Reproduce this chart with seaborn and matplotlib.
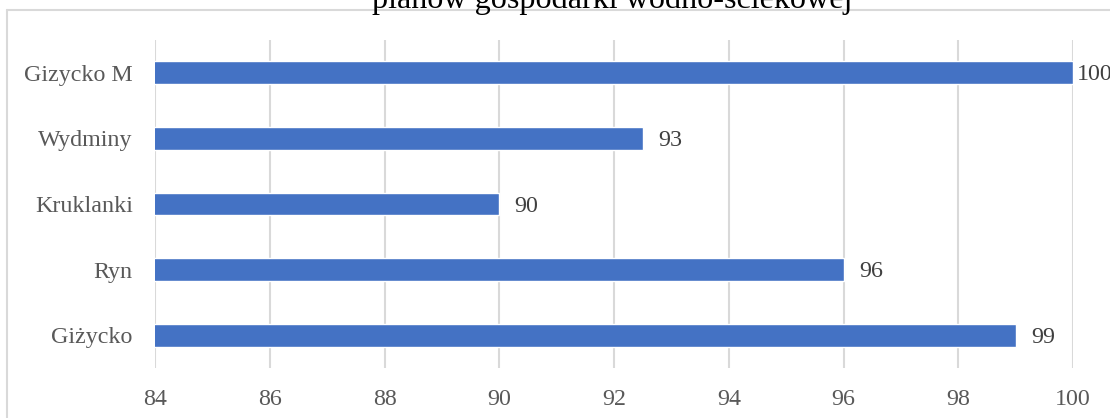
import matplotlib
matplotlib.use("Agg")
import matplotlib.pyplot as plt
import seaborn as sns
import pandas as pd
from matplotlib.lines import Line2D

categories = ["Gizycko M", "Wydminy", "Kruklanki", "Ryn", "Giżycko"]
values = [100, 92.5, 90, 96, 99]
data_labels = ["100", "93", "90", "96", "99"]
x_ticks = [84, 86, 88, 90, 92, 94, 96, 98, 100]
title = "planów gospodarki wodno-ściekowej"

sns.set_theme(style="white")
plt.rcParams['font.family'] = ['Liberation Serif', 'DejaVu Serif']

W, H = 1110, 418
fig = plt.figure(figsize=(W / 100, H / 100), dpi=100)
ax = fig.add_axes([155 / W, 1 - 368 / H, (1073 - 155) / W, (368 - 40) / H])

df = pd.DataFrame({"cat": categories, "val": values})
sns.barplot(data=df, x="val", y="cat", color="#4472C4", width=0.35,
            saturation=1, ax=ax, orient="h")

ax.set_xlim(x_ticks[0], x_ticks[-1])
ax.set_xticks(x_ticks)
ax.set_xticklabels([str(t) for t in x_ticks])
ax.set_xlabel("")
ax.set_ylabel("")
ax.grid(axis="x", color="#d9d9d9", linewidth=1.5)
ax.set_axisbelow(True)
for s in ax.spines.values():
    s.set_visible(False)
ax.tick_params(axis="both", length=0, colors="#595959", labelsize=17.3)
ax.tick_params(axis="y", pad=16)
ax.tick_params(axis="x", pad=15)

for i, (v, lab) in enumerate(zip(values, data_labels)):
    off = 3 if v >= x_ticks[-1] else 11
    ax.annotate(lab, xy=(v, i), xytext=(off, -1.5), textcoords="offset points",
                va="center", ha="left", fontsize=17.3, color="#404040",
                annotation_clip=False)

# chart area border (partially visible)
fig.add_artist(Line2D([7 / W, 7 / W], [0, 1 - 10 / H], transform=fig.transFigure,
                      color="#d9d9d9", linewidth=1.5))
fig.add_artist(Line2D([7 / W, 1], [1 - 10 / H, 1 - 10 / H], transform=fig.transFigure,
                      color="#d9d9d9", linewidth=1.5))

# clipped title
fig.text(612 / W, 1 - 8 / H, title, ha="center", va="baseline",
         fontsize=23.1, color="#000000")

fig.savefig("out.png", dpi=100)
